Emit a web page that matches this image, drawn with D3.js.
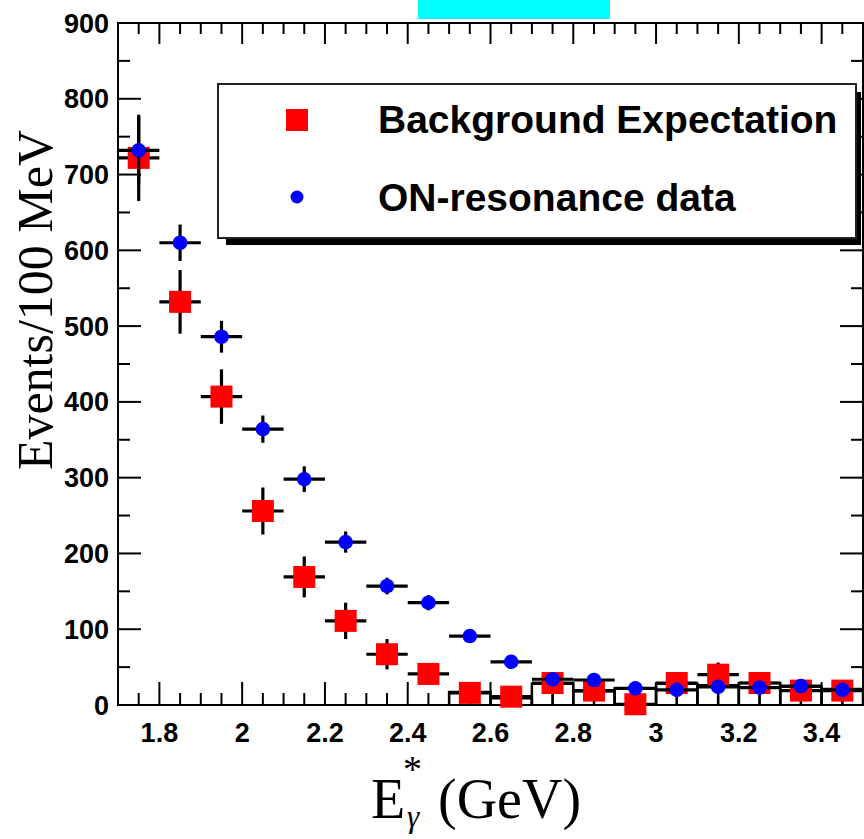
<!DOCTYPE html>
<html><head><meta charset="utf-8">
<script src="https://cdn.jsdelivr.net/npm/d3@7"></script>
<style>html,body{margin:0;padding:0;background:#fff;}svg{display:block;}</style>
</head><body>
<svg id="c" width="864" height="839"></svg>
<script>
// ---- data ----
const binCenters = [1.75,1.85,1.95,2.05,2.15,2.25,2.35,2.45,2.55,2.65,2.75,2.85,2.95,3.05,3.15,3.25,3.35,3.45];
const background = [722,532,407,256,169,111,67,41,16,11,29,19,1,29,40,29,19,19];
const backgroundErr = [57,42,36,31,27,24,20,14,12,12,14,12,10,14,16,14,12,12];
const onData = [732,610,486,364,298,215,157,135,91,57,34,33,22,20,24,23,25,20];
const onDataErr = [45,24,21,18,17,14,11,10,9,8,8,8,7,7,7,7,7,7];
const outlineCenters = [2.55,2.65,2.75,2.85,2.95,3.05,3.15,3.25,3.35,3.45];
const outlineVals = [17,9,28,18,22,28,26,29,24,21];
const xMajorTicks = [1.8,2.0,2.2,2.4,2.6,2.8,3.0,3.2,3.4];
const yMajorTicks = [0,100,200,300,400,500,600,700,800,900];
const legendLabels = ["Background Expectation","ON-resonance data"];
const binWidth = 0.1;

const svg = d3.select("#c");
const L=118, R=863, T=23, B=705;
const x = d3.scaleLinear().domain([1.7,3.5]).range([L,R]);
const y = d3.scaleLinear().domain([0,900]).range([B,T]);
const tickFont = "'Liberation Sans', Arial, Helvetica, sans-serif";
const serif = "'Liberation Serif', 'Times New Roman', serif";

// cyan title box
svg.append("rect").attr("x",418).attr("y",0).attr("width",192).attr("height",19).attr("fill","#00ffff");

// ticks
const xMinor = d3.range(0,37).map(i=>+(1.7+i*0.05).toFixed(3)).filter(v=>!xMajorTicks.some(m=>Math.abs(m-v)<1e-6));
const yMinor = d3.range(0,19).map(i=>i*50).filter(v=>v%100!==0);
const tg = svg.append("g").attr("stroke","#000").attr("stroke-width",2);
xMajorTicks.forEach(v=>{
  tg.append("line").attr("x1",x(v)).attr("x2",x(v)).attr("y1",B).attr("y2",B-23);
  tg.append("line").attr("x1",x(v)).attr("x2",x(v)).attr("y1",T).attr("y2",T+21);
});
xMinor.forEach(v=>{
  tg.append("line").attr("x1",x(v)).attr("x2",x(v)).attr("y1",B).attr("y2",B-12);
  tg.append("line").attr("x1",x(v)).attr("x2",x(v)).attr("y1",T).attr("y2",T+11);
});
yMajorTicks.forEach(v=>{
  tg.append("line").attr("x1",L).attr("x2",L+23).attr("y1",y(v)).attr("y2",y(v));
  tg.append("line").attr("x1",R).attr("x2",R-23).attr("y1",y(v)).attr("y2",y(v));
});
yMinor.forEach(v=>{
  tg.append("line").attr("x1",L).attr("x2",L+12).attr("y1",y(v)).attr("y2",y(v));
  tg.append("line").attr("x1",R).attr("x2",R-12).attr("y1",y(v)).attr("y2",y(v));
});

// tick labels
const fmt = d3.format("~g");
svg.append("g").selectAll("text").data(xMajorTicks).join("text")
  .attr("x",d=>x(d)).attr("y",742).attr("text-anchor","middle")
  .attr("font-family",tickFont).attr("font-weight","bold").attr("font-size",27)
  .text(d=>fmt(d));
svg.append("g").selectAll("text").data(yMajorTicks).join("text")
  .attr("x",109).attr("y",d=>y(d)+9.5).attr("text-anchor","end")
  .attr("font-family",tickFont).attr("font-weight","bold").attr("font-size",27)
  .text(d=>d);

// frame
svg.append("rect").attr("x",L).attr("y",T).attr("width",R-L).attr("height",B-T)
  .attr("fill","none").attr("stroke","#000").attr("stroke-width",2);

// outline histogram (low level boxes)
const og = svg.append("g").attr("stroke","#000").attr("stroke-width",2.5).attr("fill","none");
outlineCenters.forEach((c,i)=>{
  const x0=x(c-binWidth/2), x1=x(c+binWidth/2), yt=y(outlineVals[i]);
  og.append("path").attr("d",`M${x0},${B}V${yt}H${x1}V${B}`);
  og.append("line").attr("x1",x(c)).attr("x2",x(c)).attr("y1",yt).attr("y2",B);
});

// background error bars
const eg1 = svg.append("g").attr("stroke","#000").attr("stroke-width",3.2);
binCenters.forEach((c,i)=>{
  eg1.append("line").attr("x1",x(c-binWidth/2)).attr("x2",x(c+binWidth/2)).attr("y1",y(background[i])).attr("y2",y(background[i]));
  eg1.append("line").attr("x1",x(c)).attr("x2",x(c)).attr("y1",y(background[i]-backgroundErr[i])).attr("y2",y(background[i]+backgroundErr[i]));
});
svg.append("g").selectAll("rect").data(binCenters).join("rect")
  .attr("x",d=>x(d)-11).attr("y",(d,i)=>y(background[i])-11).attr("width",22).attr("height",22)
  .attr("fill","#ff0000");

// on-resonance error bars
const eg2 = svg.append("g").attr("stroke","#000").attr("stroke-width",3.2);
binCenters.forEach((c,i)=>{
  eg2.append("line").attr("x1",x(c-binWidth/2)).attr("x2",x(c+binWidth/2)).attr("y1",y(onData[i])).attr("y2",y(onData[i]));
  eg2.append("line").attr("x1",x(c)).attr("x2",x(c)).attr("y1",y(onData[i]-onDataErr[i])).attr("y2",y(onData[i]+onDataErr[i]));
});
svg.append("g").selectAll("circle").data(binCenters).join("circle")
  .attr("cx",d=>x(d)).attr("cy",(d,i)=>y(onData[i])).attr("r",7.3)
  .attr("fill","#0000ff");

// legend
svg.append("rect").attr("x",226).attr("y",92).attr("width",635).attr("height",153).attr("fill","#000");
svg.append("rect").attr("x",218).attr("y",84).attr("width",638).attr("height",154)
  .attr("fill","#fff").attr("stroke","#222").attr("stroke-width",2);
svg.append("rect").attr("x",286).attr("y",109).attr("width",22).attr("height",22).attr("fill","#ff0000");
svg.append("circle").attr("cx",297).attr("cy",197).attr("r",6.5).attr("fill","#0000ff");
svg.append("g").selectAll("text").data(legendLabels).join("text")
  .attr("x",378).attr("y",(d,i)=>i===0?133:211)
  .attr("font-family",tickFont).attr("font-weight","bold").attr("font-size",39)
  .text(d=>d);

// axis titles
svg.append("text").attr("transform","translate(52,300) rotate(-90)")
  .attr("text-anchor","middle").attr("font-family",serif).attr("font-size",50)
  .text("Events/100 MeV");
const xt = svg.append("g").attr("font-family",serif);
xt.append("text").attr("x",371).attr("y",818).attr("font-size",56).text("E");
xt.append("text").attr("x",403).attr("y",782).attr("font-size",38).text("*");
xt.append("text").attr("x",407).attr("y",827).attr("font-size",31).attr("font-style","italic").text("γ");
xt.append("text").attr("x",438).attr("y",818).attr("font-size",56).text("(GeV)");
</script>
</body></html>
